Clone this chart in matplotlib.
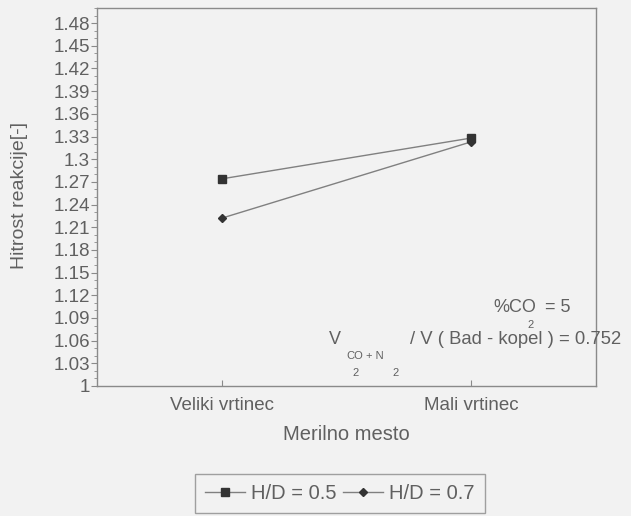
import numpy as np
import matplotlib.pyplot as plt
from matplotlib.ticker import MultipleLocator

# Data
categories = ["Veliki vrtinec", "Mali vrtinec"]
hd05 = [1.274, 1.328]
hd07 = [1.222, 1.323]
series_labels = ["H/D = 0.5", "H/D = 0.7"]
yticks = [1.0, 1.03, 1.06, 1.09, 1.12, 1.15, 1.18, 1.21, 1.24, 1.27,
          1.3, 1.33, 1.36, 1.39, 1.42, 1.45, 1.48]

BG = "#f2f2f2"
TXT = "#606060"
EDGE = "#8a8a8a"

plt.rcParams['font.family'] = ['Liberation Sans', 'DejaVu Sans']

W, H = 631, 516
fig = plt.figure(figsize=(W / 100, H / 100), dpi=100, facecolor=BG)
ax = fig.add_axes([97 / W, 1 - 386 / H, (596 - 97) / W, (386 - 8) / H])
ax.set_facecolor(BG)

x = np.arange(len(categories))
ax.plot(x, hd05, color="#808080", lw=1.0, marker="s", ms=6,
        mfc="#333333", mec="#333333", label=series_labels[0])
ax.plot(x, hd07, color="#808080", lw=1.0, marker="D", ms=4,
        mfc="#333333", mec="#333333", label=series_labels[1])

ax.set_xlim(-0.5, 1.5)
ax.set_ylim(1.0, 1.5)
ax.set_xticks(x)
ax.set_xticklabels(categories)
ax.set_yticks(yticks)
ax.yaxis.set_major_formatter(plt.FuncFormatter(lambda v, p: f"{v:g}"))
ax.yaxis.set_minor_locator(MultipleLocator(0.01))

ax.tick_params(axis="y", which="major", direction="out", length=4,
               width=0.8, color=EDGE, labelsize=13.5, labelcolor=TXT, pad=1)
ax.tick_params(axis="y", which="minor", direction="out", length=2,
               width=0.6, color=EDGE)
ax.tick_params(axis="x", direction="in", length=4, width=0.8, color=EDGE,
               labelsize=13.5, labelcolor=TXT, pad=8)
for s in ax.spines.values():
    s.set_color(EDGE)
    s.set_linewidth(1.0)

ax.set_ylabel("Hitrost reakcije[-]", fontsize=14, color=TXT)
ax.yaxis.set_label_coords(-69 / (596 - 97), 0.505)
ax.set_xlabel("Merilno mesto", fontsize=14.5, color=TXT)
ax.xaxis.set_label_coords(0.5, -(425 - 386) / (386 - 8))

# Annotation text
def ft(px, py, s, size):
    fig.text(px / W, 1 - py / H, s, fontsize=size, color=TXT,
             ha="left", va="center")

ft(493, 307, "%CO", 13)
ft(527, 325, "2", 8)
ft(545, 307, "= 5", 13)
ft(329, 339, "V", 13)
ft(346, 356, "CO", 8)
ft(366, 356, "+ N", 8)
ft(352, 373, "2", 8)
ft(392, 373, "2", 8)
ft(410, 339, "/ V ( Bad - kopel ) = 0.752", 13.3)

leg = fig.legend(loc="upper left", bbox_to_anchor=(195 / W, 1 - 474 / H),
                 borderaxespad=0, ncol=2, frameon=True, fancybox=False,
                 fontsize=14.5, handlelength=2.0, handletextpad=0.3,
                 columnspacing=0.3, borderpad=0.5, labelcolor=TXT)
leg.get_frame().set_edgecolor(EDGE)
leg.get_frame().set_facecolor(BG)
leg.get_frame().set_linewidth(1.0)

fig.savefig("out.png", dpi=100, facecolor=BG)
